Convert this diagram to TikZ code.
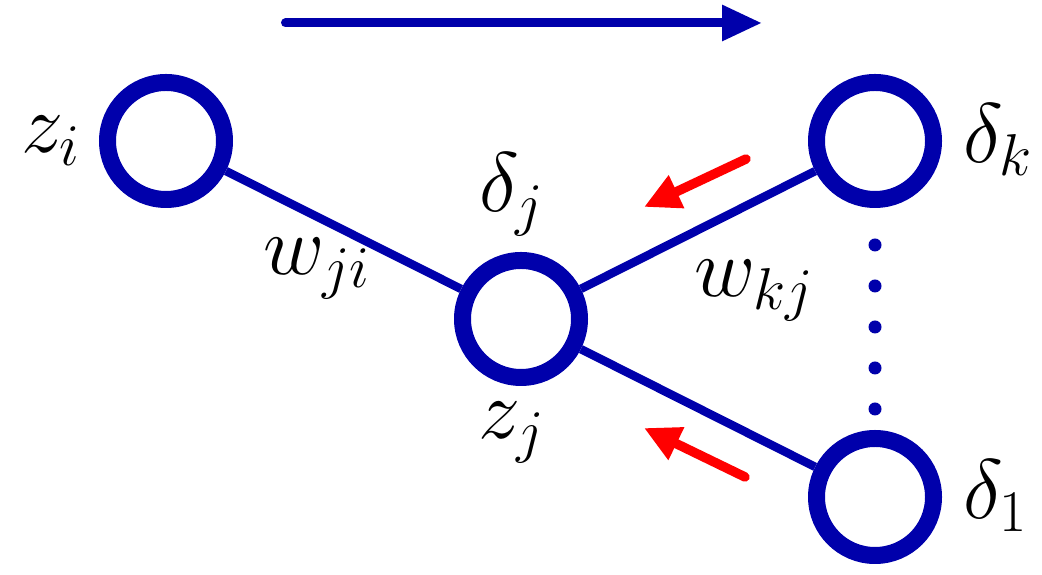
\RequirePackage{fix-cm}
\documentclass[tikz,border=0pt]{standalone}
\usetikzlibrary{arrows.meta}

\begin{document}
\begin{tikzpicture}[
  unit/.style={circle, draw=netblue, line width=0.34cm, minimum size=2.34cm, inner sep=0pt},
  edge/.style={draw=netblue, line width=0.17cm},
  lbl/.style={inner sep=0pt, anchor=base west, font=\fontsize{48}{58}\selectfont},
  dot/.style={circle, fill=netblue, inner sep=0pt, minimum size=0.26cm},
  fwd/.style={draw=netblue, line width=0.18cm, line cap=round, -{Triangle[length=0.8cm, width=0.68cm]}},
  back/.style={draw=backred, line width=0.19cm, line cap=round, -{Triangle[length=0.72cm, width=0.68cm]}}
]

%─────────────
% Controls
%─────────────
\definecolor{netblue}{rgb}{0,0,0.67}  % Unit and weight colour
\definecolor{backred}{rgb}{1,0,0}     % Backward pass colour
\def\dotstep{0.82}                    % Spacing of the dots between output units

\useasboundingbox (0,0) rectangle (20.84,11.5);

%─────────────
% Units
%─────────────
\node[unit] (zi) at (3.32,8.68) {};
\node[unit] (zj) at (10.42,5.12) {};
\node[unit] (dk) at (17.5,8.68) {};
\node[unit] (d1) at (17.5,1.56) {};

% Weights
\draw[edge] (zi) -- (zj);
\draw[edge] (zj) -- (dk);
\draw[edge] (zj) -- (d1);

% Dots between the output units
\foreach \k in {0,...,4} {
  \node[dot] (dot\k) at (17.5, {6.6-\dotstep*\k}) {};
}

%─────────────
% Labels
%─────────────
\node[lbl] (lzi) at (0.42,8.44) {$z_i$};
\node[lbl] (ldj) at (9.58,7.26) {$\delta_j$};
\node[lbl] (lzj) at (9.56,2.72) {$z_j$};
\node[lbl] (ldk) at (19.26,8.24) {$\delta_k$};
\node[lbl] (ld1) at (19.26,1.12) {$\delta_1$};
\node[lbl] (lwji) at (5.26,6.0) {$w_{ji}$};
\node[lbl] (lwkj) at (13.88,5.56) {$w_{kj}$};

%─────────────
% Forward and backward passes
%─────────────
\coordinate (fwdA) at (5.71,11.04);
\coordinate (fwdB) at (15.24,11.04);
\draw[fwd] (fwdA) -- (fwdB);

\coordinate (bkA) at (14.92,8.32);
\coordinate (bkB) at (12.88,7.36);
\draw[back] (bkA) -- (bkB);

\coordinate (bkC) at (14.90,1.96);
\coordinate (bkD) at (12.88,2.94);
\draw[back] (bkC) -- (bkD);

\end{tikzpicture}
\end{document}
